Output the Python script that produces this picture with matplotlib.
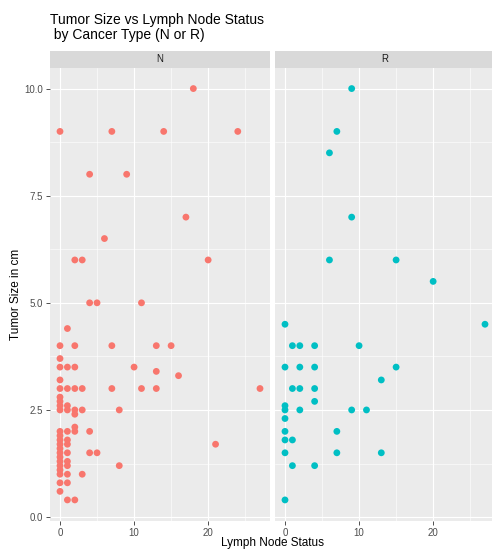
import numpy as np
import matplotlib
matplotlib.use("Agg")
import matplotlib.pyplot as plt
from matplotlib.ticker import MultipleLocator

# Lymph node counts and tumour sizes, cancer type N
n_nodes = [0, 7, 14, 24, 18, 4, 9, 6, 17, 2, 3, 20, 4, 5, 11,
           1, 0, 2, 7, 13, 15, 0, 0, 1, 2, 10, 13, 16, 0,
           0, 1, 2, 3, 7, 11, 13, 27,
           0, 0, 0, 0, 1, 1, 2, 2, 3, 8,
           0, 0, 0, 0, 0, 0, 0, 0, 0, 0, 0, 0, 0,
           1, 1, 1, 1, 1, 1, 1, 1, 1,
           2, 2, 2, 3, 4, 4, 5, 8, 21]
n_size = [9.0, 9.0, 9.0, 9.0, 10.0, 8.0, 8.0, 6.5, 7.0, 6.0, 6.0, 6.0, 5.0, 5.0, 5.0,
          4.4, 4.0, 4.0, 4.0, 4.0, 4.0, 3.7, 3.5, 3.5, 3.5, 3.5, 3.4, 3.3, 3.2,
          3.0, 3.0, 3.0, 3.0, 3.0, 3.0, 3.0, 3.0,
          2.8, 2.7, 2.6, 2.5, 2.6, 2.5, 2.5, 2.4, 2.5, 2.5,
          2.0, 1.9, 1.8, 1.7, 1.6, 1.5, 1.4, 1.3, 1.2, 1.1, 1.0, 0.8, 0.6,
          2.0, 1.8, 1.7, 1.5, 1.3, 1.2, 1.0, 0.8, 0.4,
          2.1, 2.0, 0.4, 1.0, 2.0, 1.5, 1.5, 1.2, 1.7]

# Same measurements for cancer type R
r_nodes = [9, 7, 6, 9, 6, 15, 20, 27, 0,
           1, 2, 4, 10,
           0, 2, 4, 15,
           13,
           1, 2, 4,
           4,
           0, 0, 2, 9, 11,
           0,
           0, 7,
           0, 1,
           0, 7, 13,
           1, 4,
           0]
r_size = [10.0, 9.0, 8.5, 7.0, 6.0, 6.0, 5.5, 4.5, 4.5,
          4.0, 4.0, 4.0, 4.0,
          3.5, 3.5, 3.5, 3.5,
          3.2,
          3.0, 3.0, 3.0,
          2.7,
          2.6, 2.5, 2.5, 2.5, 2.5,
          2.3,
          2.0, 2.0,
          1.8, 1.8,
          1.5, 1.5, 1.5,
          1.2, 1.2,
          0.4]

cancer_types = ["N", "R"]
type_colors = ["#F8766D", "#00BFC4"]

W, H = 492, 549


def px_box(x0, y0, x1, y1):
    """Convert a pixel box (top-left origin) to figure coordinates."""
    return [x0 / W, 1 - y1 / H, (x1 - x0) / W, (y1 - y0) / H]


def style_panel(ax, show_y):
    ax.set_facecolor("#EBEBEB")
    for s in ax.spines.values():
        s.set_visible(False)
    ax.set_xlim(-1.35, 28.35)
    ax.set_ylim(-0.08, 10.48)
    ax.xaxis.set_major_locator(MultipleLocator(10))
    ax.xaxis.set_minor_locator(MultipleLocator(5))
    ax.yaxis.set_major_locator(MultipleLocator(2.5))
    ax.yaxis.set_minor_locator(MultipleLocator(1.25))
    ax.grid(which="major", color="white", linewidth=0.8)
    ax.grid(which="minor", color="white", linewidth=0.4)
    ax.set_axisbelow(True)
    ax.tick_params(which="minor", length=0)
    ax.tick_params(which="major", length=3.2, width=0.6, color="#333333",
                   labelcolor="#4D4D4D", labelsize=7, pad=2)
    ax.set_xticks([0, 10, 20])
    ax.set_xticklabels(["0", "10", "20"])
    if show_y:
        ax.set_yticks([0, 2.5, 5, 7.5, 10])
        ax.set_yticklabels(["0.0", "2.5", "5.0", "7.5", "10.0"])
    else:
        ax.tick_params(axis="y", which="both", left=False, labelleft=False)


def main():
    plt.rcParams["font.family"] = ["Liberation Sans", "DejaVu Sans"]
    fig = plt.figure(figsize=(W / 100, H / 100), dpi=100)

    panels = [(50, 270), (275, 495)]
    data = [(n_nodes, n_size), (r_nodes, r_size)]

    for i, ((x0, x1), (xs, ys)) in enumerate(zip(panels, data)):
        ax = fig.add_axes(px_box(x0, 68, x1, 520.5))
        style_panel(ax, show_y=(i == 0))
        ax.scatter(xs, ys, s=24, color=type_colors[i], edgecolors="none",
                   zorder=3, clip_on=False)

        # facet strip
        strip = fig.add_axes(px_box(x0, 51, x1, 68))
        strip.set_facecolor("#D9D9D9")
        strip.set_xticks([])
        strip.set_yticks([])
        for s in strip.spines.values():
            s.set_visible(False)
        strip.text(0.5, 0.5, cancer_types[i], ha="center", va="center",
                   fontsize=7, color="#1A1A1A", transform=strip.transAxes)

    fig.text(50 / W, 1 - 13 / H,
             "Tumor Size vs Lymph Node Status\n by Cancer Type (N or R)",
             ha="left", va="top", fontsize=10, color="black", linespacing=1.08)
    fig.text(272.5 / W, 1 - 543 / H, "Lymph Node Status", ha="center",
             va="center", fontsize=8.5, color="black")
    fig.text(16 / W, 1 - 294 / H, "Tumor Size in cm", ha="center",
             va="center", rotation=90, fontsize=8.5, color="black")

    fig.savefig("out.png", dpi=100, facecolor="white")


if __name__ == "__main__":
    main()
